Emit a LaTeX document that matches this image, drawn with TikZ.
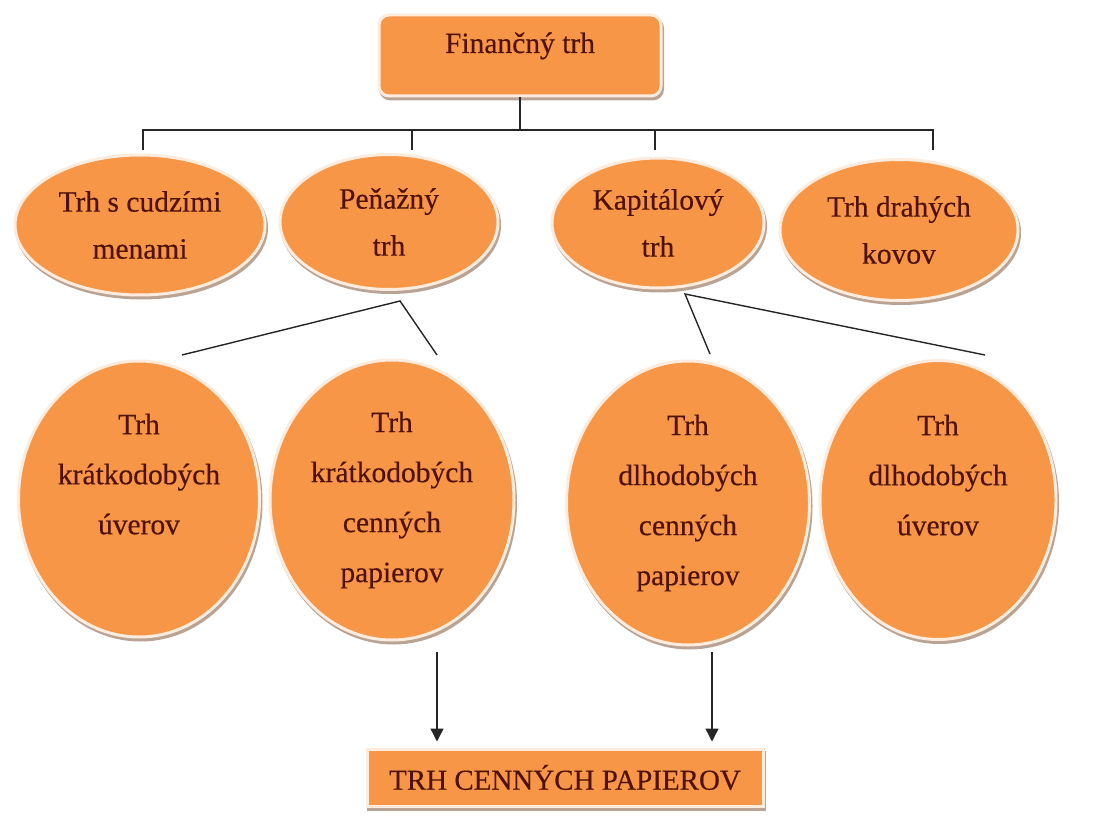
\documentclass[tikz,border=0pt]{standalone}
\usepackage{fontspec}
\setmainfont{Liberation Serif}
\newfontfamily\dfont{Liberation Serif}[FakeBold=0.35]
\usetikzlibrary{arrows.meta,shapes.geometric}
\definecolor{orng}{RGB}{247,150,70}
\definecolor{rim}{RGB}{253,236,222}
\definecolor{shd}{RGB}{185,163,148}
\definecolor{txt}{RGB}{80,18,8}
\begin{document}
\begin{tikzpicture}[x=1pt,y=-1pt,
  box/.style={fill=orng, draw=rim, line width=3pt, text=txt,
    preaction={fill=shd, draw=shd, line width=3pt, transform canvas={xshift=1.5pt,yshift=-3pt}}},
  oval/.style={box, ellipse, inner sep=0pt, align=center, font=\dfont\fontsize{29.5}{47}\selectfont},
  circ/.style={box, ellipse, inner sep=0pt, align=center, font=\dfont\fontsize{29.5}{50}\selectfont},
  conn/.style={draw=black!85, line width=1.4pt},
  arr/.style={conn, -{Triangle[width=13pt,length=13pt]}}]
\useasboundingbox[fill=white] (0,0) rectangle (1110,818);

% top box
\node[box, rounded corners=10pt, minimum width=282pt, minimum height=81pt,
      text height=20pt, text depth=25pt, font=\dfont\fontsize{29.5}{34}\selectfont]
      (top) at (520,55.5) {Finančný trh};

% level 1 ellipses
\node[oval, minimum width=250pt, minimum height=140pt] (e1) at (140,225) {Trh s cudzími\\menami};
\node[oval, minimum width=218pt, minimum height=135pt] (e2) at (389,222) {Peňažný\\trh};
\node[oval, minimum width=212pt, minimum height=130pt] (e3) at (658,223) {Kapitálový\\trh};
\node[oval, minimum width=238pt, minimum height=141pt] (e4) at (899,230) {Trh drahých\\kovov};

% level 2 circles
\node[circ, minimum width=241pt, minimum height=276pt] (c1) at (139,499) {Trh\\krátkodobých\\úverov\\\mbox{}};
\node[circ, minimum width=244pt, minimum height=280pt] (c2) at (392,500) {Trh\\krátkodobých\\cenných\\papierov};
\node[circ, minimum width=243pt, minimum height=284pt] (c3) at (688,503) {Trh\\dlhodobých\\cenných\\papierov};
\node[circ, minimum width=236pt, minimum height=279pt] (c4) at (938,500) {Trh\\dlhodobých\\úverov\\\mbox{}};

% bottom box
\node[box, minimum width=396pt, minimum height=57pt, font=\dfont\fontsize{29}{34}\selectfont]
      (bot) at (565,777.5) {TRH CENNÝCH PAPIEROV};

% tree connectors
\coordinate (bus) at (520,130);
\coordinate (b1) at (143,150);
\coordinate (b2) at (412,150);
\coordinate (b3) at (655,150);
\coordinate (b4) at (933,150);
\draw[conn] (top.south) -- (top.south |- bus);
\draw[conn] (b1) -- (b1 |- bus) -- (b4 |- bus) -- (b4);
\draw[conn] (b2) -- (b2 |- bus);
\draw[conn] (b3) -- (b3 |- bus);

% Penazny trh branches
\coordinate (p) at (400,301);
\coordinate (pa) at (182,355);
\coordinate (pb) at (437,355);
\draw[conn] (pa) -- (p) -- (pb);

% Kapitalovy trh branches
\coordinate (k) at (685,294);
\coordinate (ka) at (710,354);
\coordinate (kb) at (985,355);
\draw[conn] (ka) -- (k) -- (kb);

% arrows to bottom box
\coordinate (a1) at (437,652);
\coordinate (a2) at (712,652);
\draw[arr, shorten >=6pt] (a1) -- (a1 |- bot.north);
\draw[arr, shorten >=6pt] (a2) -- (a2 |- bot.north);
\end{tikzpicture}
\end{document}
